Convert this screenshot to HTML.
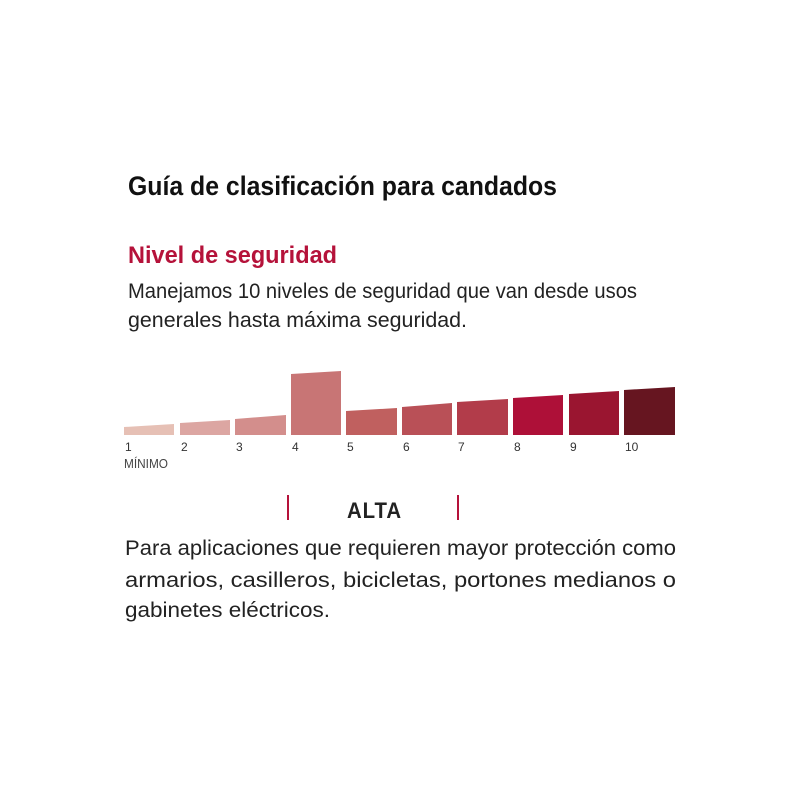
<!DOCTYPE html>
<html><head><meta charset="utf-8">
<style>
html,body{margin:0;padding:0;background:#fff;}
body{width:800px;height:800px;position:relative;overflow:hidden;font-family:"Liberation Sans",sans-serif;}
.t{position:absolute;white-space:nowrap;transform-origin:0 0;line-height:1;}
.n{position:absolute;font-size:12px;color:#333;top:440px;}
</style></head><body>
<div class="t" id="l0" style="left:128px;top:173px;font-size:27px;font-weight:bold;color:#111;">Guía de clasificación para candados</div>
<div class="t" id="l1" style="left:128px;top:244px;font-size:24px;font-weight:bold;color:#b5123a;">Nivel de seguridad</div>
<div class="t" id="l2" style="left:128px;top:281px;font-size:21px;color:#222;">Manejamos 10 niveles de seguridad que van desde usos</div>
<div class="t" id="l3" style="left:128px;top:310px;font-size:21px;color:#222;">generales hasta máxima seguridad.</div>
<svg style="position:absolute;left:0;top:0" width="800" height="800">
<polygon points="124,427 174,424 174,435 124,435" fill="#e6c0b5"/>
<polygon points="180,423 230,420 230,435 180,435" fill="#dca6a2"/>
<polygon points="235,419 286,415 286,435 235,435" fill="#d38e8c"/>
<polygon points="291,374 341,371 341,435 291,435" fill="#c87575"/>
<polygon points="346,411 397,408 397,435 346,435" fill="#c0605f"/>
<polygon points="402,407 452,403 452,435 402,435" fill="#b95057"/>
<polygon points="457,402 508,399 508,435 457,435" fill="#b23c4a"/>
<polygon points="513,398 563,395 563,435 513,435" fill="#ae1038"/>
<polygon points="569,394 619,391 619,435 569,435" fill="#9a1530"/>
<polygon points="624,390 675,387 675,435 624,435" fill="#661520"/>
<rect x="287" y="495" width="2" height="25" fill="#b5123a"/>
<rect x="457" y="495" width="2" height="25" fill="#b5123a"/>
</svg>
<div class="n" style="left:125px">1</div>
<div class="n" style="left:181px">2</div>
<div class="n" style="left:236px">3</div>
<div class="n" style="left:292px">4</div>
<div class="n" style="left:347px">5</div>
<div class="n" style="left:403px">6</div>
<div class="n" style="left:458px">7</div>
<div class="n" style="left:514px">8</div>
<div class="n" style="left:570px">9</div>
<div class="n" style="left:625px">10</div>
<div class="t" id="l4" style="left:124px;top:457px;font-size:13px;color:#444;">MÍNIMO</div>
<div class="t" id="l5" style="left:347px;top:500px;font-size:22px;font-weight:bold;color:#222;letter-spacing:1px;">ALTA</div>
<div class="t" id="l6" style="left:125px;top:538px;font-size:21px;color:#222;">Para aplicaciones que requieren mayor protección como</div>
<div class="t" id="l7" style="left:125px;top:570px;font-size:21px;color:#222;">armarios, casilleros, bicicletas, portones medianos o</div>
<div class="t" id="l8" style="left:125px;top:600px;font-size:21px;color:#222;">gabinetes eléctricos.</div>
<script>
var W={l0:429,l1:209,l2:509,l3:339,l4:44,l5:55,l6:551,l7:551,l8:205};
for(var k in W){var e=document.getElementById(k);var w=e.getBoundingClientRect().width;e.style.transform='scaleX('+(W[k]/w)+')';}
</script>
</body></html>
